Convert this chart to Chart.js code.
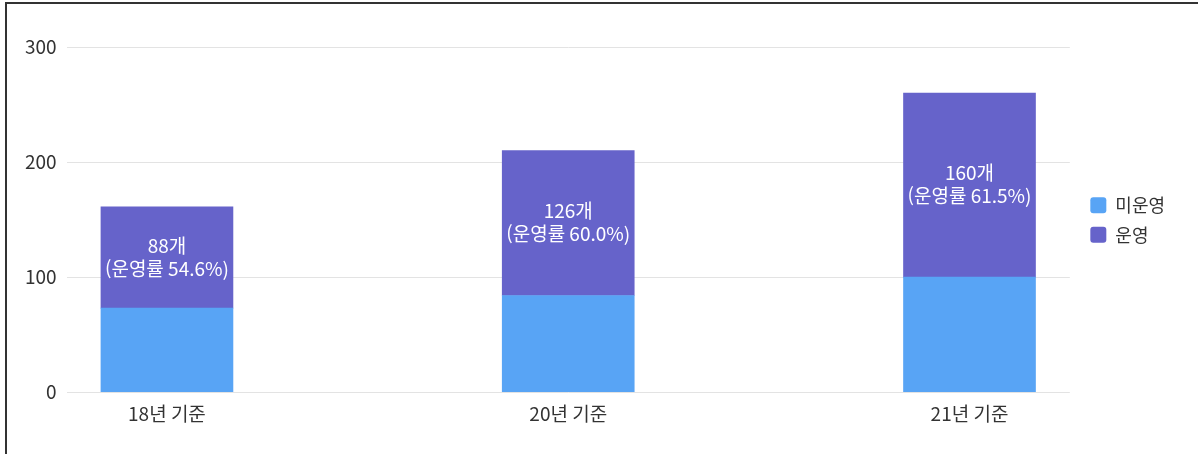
<!DOCTYPE html>
<html lang="ko">
<head>
<meta charset="utf-8">
<script src="https://cdn.jsdelivr.net/npm/chart.js@4/dist/chart.umd.min.js"></script>
<style>
  html, body { margin: 0; padding: 0; background: #fff; }
  #wrap { position: absolute; left: 0; top: 0; width: 1198px; height: 454px; }
  #frame { position: absolute; left: 5px; top: 2px; width: 1210px; height: 470px; border: 2px solid #333; box-sizing: border-box; pointer-events: none; }
</style>
</head>
<body>
<div id="wrap"><canvas id="c" width="1198" height="454"></canvas></div>
<div id="frame"></div>
<script>
const categories = ['18년 기준', '20년 기준', '21년 기준'];
const notOperating = [73, 84, 100];
const operating = [88, 126, 160];
const operatingRate = ['54.6', '60.0', '61.5'];
const yTicks = [0, 100, 200, 300];

const FONT = "'Noto Sans CJK KR', 'Noto Sans', sans-serif";

const barLabels = {
  id: 'barLabels',
  afterDatasetsDraw(chart) {
    const meta = chart.getDatasetMeta(1);
    const ctx = chart.ctx;
    ctx.save();
    ctx.fillStyle = '#ffffff';
    ctx.textAlign = 'center';
    ctx.textBaseline = 'middle';
    ctx.font = '19px ' + FONT;
    meta.data.forEach((el, i) => {
      const p = el.getProps(['x', 'y', 'base'], true);
      const cy = (p.y + p.base) / 2;
      ctx.fillText(operating[i] + '개', p.x, cy - 12);
      ctx.fillText('(운영률 ' + operatingRate[i] + '%)', p.x, cy + 11);
    });
    ctx.restore();
  }
};

const chart = new Chart(document.getElementById('c'), {
  type: 'bar',
  data: {
    datasets: [
      { label: '미운영', data: notOperating.map((v, i) => ({ x: i, y: v })), backgroundColor: '#58a4f5', barThickness: 132 },
      { label: '운영', data: operating.map((v, i) => ({ x: i, y: v })), backgroundColor: '#6663ca', barThickness: 132 }
    ]
  },
  options: {
    responsive: false,
    animation: false,
    layout: { padding: { left: 15, top: 47, right: 32, bottom: 19 } },
    plugins: {
      tooltip: { enabled: false },
      legend: {
        position: 'right',
        labels: {
          font: { family: FONT, size: 18 },
          color: '#333',
          boxWidth: 16,
          boxHeight: 16,
          padding: 11.5,
          useBorderRadius: true,
          borderRadius: 3
        }
      }
    },
    scales: {
      x: {
        type: 'linear',
        offset: false,
        stacked: true,
        min: -0.25,
        max: 2.25,
        afterBuildTicks: (s) => { s.ticks = categories.map((c, i) => ({ value: i })); },
        grid: { display: false, drawTicks: false },
        border: { display: false },
        ticks: {
          callback: (v) => categories[v],
          font: { family: FONT, size: 19 },
          color: '#333',
          padding: 10,
          maxRotation: 0,
          autoSkip: false
        }
      },
      y: {
        stacked: true,
        min: 0,
        max: 300,
        afterBuildTicks: (s) => { s.ticks = yTicks.map(v => ({ value: v })); },
        grid: { color: '#e3e3e3', drawTicks: false },
        border: { display: false },
        ticks: {
          font: { family: FONT, size: 19 },
          color: '#333',
          padding: 10
        }
      }
    }
  },
  plugins: [barLabels]
});

// nudge legend drawing to leave a gap after the plot area and sit near the middle
const origLegendDraw = chart.legend.draw;
chart.legend.draw = function () {
  const ctx = this.ctx;
  ctx.save();
  ctx.translate(9, -21);
  origLegendDraw.apply(this, arguments);
  ctx.restore();
};
chart.draw();
</script>
</body>
</html>
